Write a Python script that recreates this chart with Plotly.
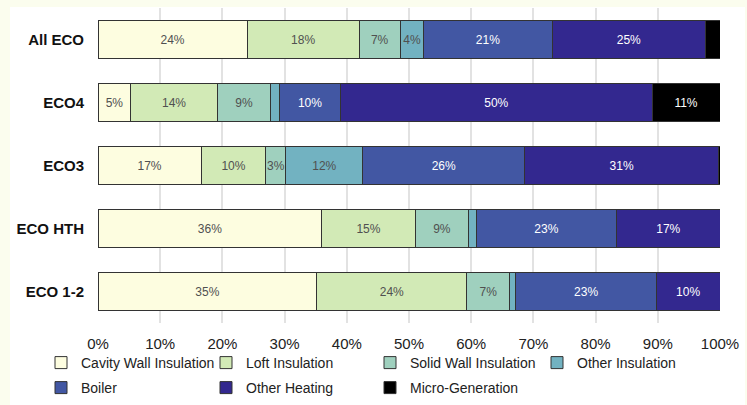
import plotly.graph_objects as go

categories = ["All ECO", "ECO4", "ECO3", "ECO HTH", "ECO 1-2"]
series_names = ["Cavity Wall Insulation", "Loft Insulation", "Solid Wall Insulation",
                "Other Insulation", "Boiler", "Other Heating", "Micro-Generation"]
cavity = [24.0, 5.3, 16.6, 36.0, 35.2]
loft = [18.0, 13.9, 10.4, 15.0, 24.1]
solid = [6.6, 8.6, 3.2, 8.6, 6.9]
other_ins = [3.8, 1.4, 12.4, 1.2, 1.0]
boiler = [20.6, 9.8, 26.0, 22.6, 22.6]
other_heat = [24.7, 50.1, 31.2, 16.6, 10.2]
micro = [2.3, 10.9, 0.2, 0.0, 0.0]
tick_vals = [0, 10, 20, 30, 40, 50, 60, 70, 80, 90, 100]
tick_text = [f"{v}%" for v in tick_vals]

colors = ["#fdfde0", "#d2eab6", "#9fd0be", "#72b2c1", "#4257a3", "#33288f", "#000000"]
text_colors = ["#505050", "#505050", "#505050", "#505050", "#ffffff", "#ffffff", "#ffffff"]
all_series = [cavity, loft, solid, other_ins, boiler, other_heat, micro]

W, H = 747, 405
ml, mr, mt, mb = 98, 27, 8, 82
pw, ph = W - ml - mr, H - mt - mb

# legend text start (px) and row centre (px) for each series
leg_text_x = [82, 247, 411, 578, 82, 247, 411]
leg_row_y = [363, 363, 363, 363, 388, 388, 388]
legend_ids = ["legend"] + [f"legend{i}" for i in range(2, 8)]

fig = go.Figure()
for name, vals, col, tcol, lg in zip(series_names, all_series, colors, text_colors, legend_ids):
    labels = [f"{round(v)}%" if v >= 3 else "" for v in vals]
    fig.add_trace(go.Bar(
        y=categories, x=vals, name=name, orientation="h", legend=lg,
        marker=dict(color=col, line=dict(color="#333333", width=1)),
        text=labels, textposition="inside", insidetextanchor="middle",
        textangle=0, insidetextfont=dict(color=tcol, size=12, family="Liberation Sans"),
        hoverinfo="skip",
    ))

fig.add_shape(type="rect", xref="paper", yref="paper",
              x0=(10 - ml) / pw, x1=(745 - ml) / pw,
              y0=-1, y1=(mt + ph - 7) / ph,
              fillcolor="white", line=dict(width=0), layer="below")

legends = {}
for lg, tx, ty in zip(legend_ids, leg_text_x, leg_row_y):
    legends[lg] = dict(orientation="h", xref="container", yref="container",
                       x=(tx - 41) / W, xanchor="left",
                       y=1 - ty / H, yanchor="middle",
                       itemwidth=30, font=dict(size=14, color="#222222"),
                       bgcolor="rgba(0,0,0,0)")

fig.update_layout(
    width=W, height=H,
    margin=dict(l=ml, r=mr, t=mt, b=mb, autoexpand=False),
    barmode="stack", bargap=0.41,
    paper_bgcolor="#fbfdee", plot_bgcolor="rgba(0,0,0,0)",
    font=dict(family="Liberation Sans", color="#222222"),
    uniformtext=dict(minsize=12, mode="show"),
    xaxis=dict(range=[0, 100], tickvals=tick_vals, ticktext=tick_text,
               showgrid=True, gridcolor="#e2e2e2", gridwidth=2, zeroline=False,
               tickfont=dict(size=15, color="#222222"), ticks="",
               ticklabelstandoff=10, fixedrange=True),
    yaxis=dict(categoryorder="array", categoryarray=categories[::-1],
               tickfont=dict(size=15, color="#111111", family="Liberation Sans"),
               ticks="", ticklabelstandoff=13, showgrid=False),
    showlegend=True,
    **legends,
)
fig.update_yaxes(tickprefix="<b>", ticksuffix="</b>")

fig.write_html("out.html")
